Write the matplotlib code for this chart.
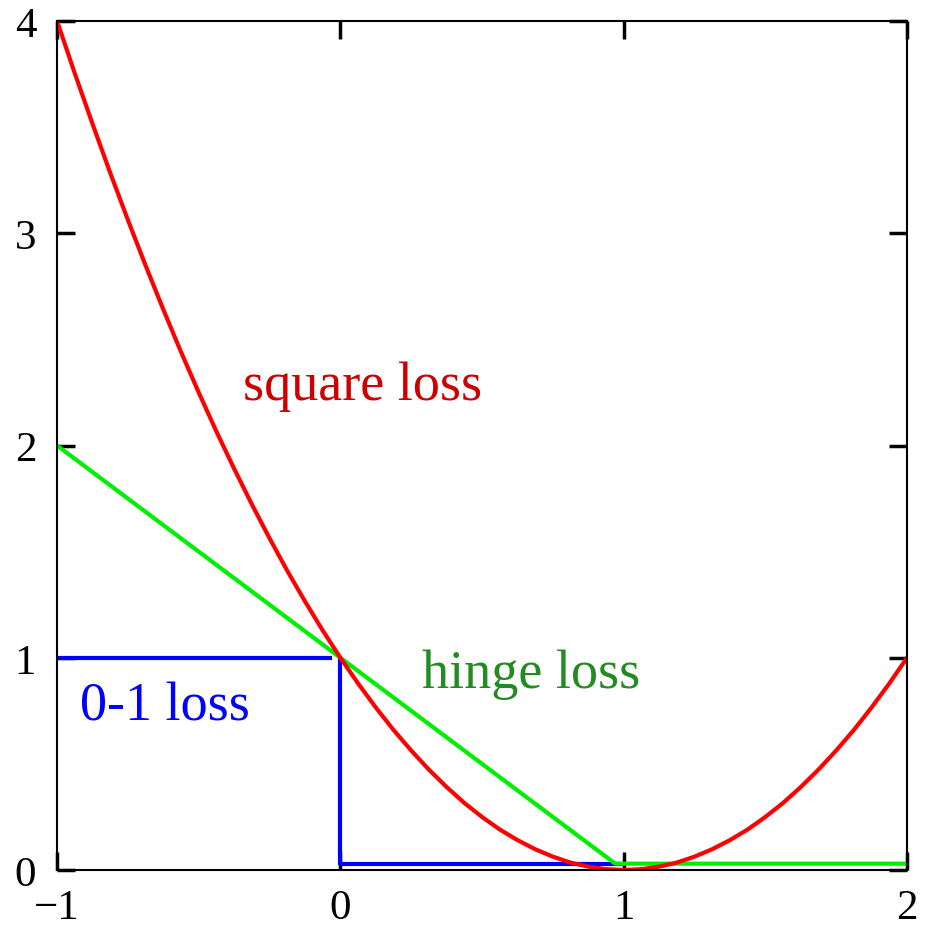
"""
Loss functions for binary classification: 0-1, hinge and square loss
"""

import numpy as np
import matplotlib
matplotlib.use('Agg')
import matplotlib.pyplot as plt

plt.rcParams['font.family'] = ['Liberation Serif', 'DejaVu Serif']

# square loss (1 - z)^2 sampled every 1/16 on [-1, 2]
sq_x = np.linspace(-1, 2, 49)
sq_y = [4.0, 3.754, 3.516, 3.285, 3.063, 2.848, 2.641, 2.441,
        2.25, 2.066, 1.891, 1.723, 1.563, 1.410, 1.266, 1.129,
        1.0, 0.879, 0.766, 0.660, 0.563, 0.473, 0.391, 0.316,
        0.25, 0.191, 0.141, 0.098, 0.063, 0.035, 0.016, 0.004,
        0.0, 0.004, 0.016, 0.035, 0.063, 0.098, 0.141, 0.191,
        0.25, 0.316, 0.391, 0.473, 0.563, 0.660, 0.766, 0.879, 1.0]

# hinge loss max(0, 1 - z), flat part lifted a hair off the axis
hinge_x = [-1.0, 0.97, 2.0]
hinge_y = [2.0, 0.03, 0.03]

# 0-1 loss, drawn as separate pieces
zo_x = [-1.0, -0.03, np.nan, 0.0, 0.0, 1.0]
zo_y = [1.0, 1.0, np.nan, 1.0, 0.03, 0.03]

xticks = [-1, 0, 1, 2]
yticks = [0, 1, 2, 3, 4]

def main():
	fig = plt.figure(figsize=(9.26, 9.28), dpi=100)
	ax = fig.add_axes([0.0616, 0.0614, 0.9179, 0.9149])

	ax.plot(zo_x, zo_y, color='#0000ff', lw=3, solid_capstyle='butt')
	ax.plot(hinge_x, hinge_y, color='#00ee00', lw=3)
	ax.plot(sq_x, sq_y, color='#ff0000', lw=3)

	# curve labels
	ax.text(-0.343, 2.22, 'square loss', color='#cc0000', fontsize=39)
	ax.text(0.288, 0.862, 'hinge loss', color='#228b22', fontsize=39)
	ax.text(-0.919, 0.711, '0-1 loss', color='#0000ff', fontsize=39)

	ax.set_xlim(-1, 2)
	ax.set_ylim(0, 4)
	ax.set_xticks(xticks)
	ax.set_yticks(yticks)
	ax.tick_params(direction='in', top=True, right=True, length=13,
		width=2.5, labelsize=31)
	ax.tick_params(axis='x', pad=13)
	ax.tick_params(axis='y', pad=15)
	for s in ax.spines.values():
		s.set_linewidth(1.5)

	fig.savefig('out.png', dpi=100)

if __name__ == '__main__':
	main()
